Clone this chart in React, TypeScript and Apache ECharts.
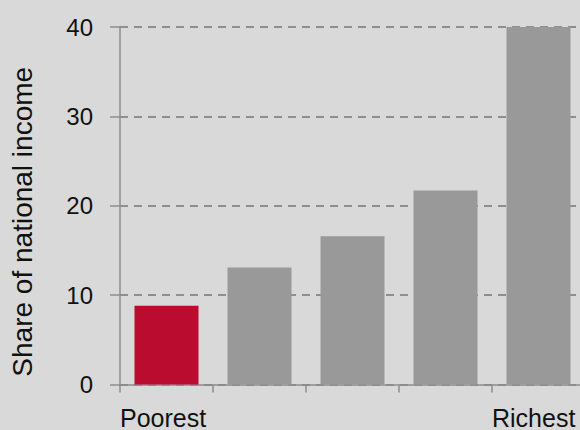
import React, { useEffect, useRef } from "react";
import * as echarts from "echarts";

const categories = ["Quintile 1", "Quintile 2", "Quintile 3", "Quintile 4", "Quintile 5"];
const shareValues = [8.8, 13.1, 16.6, 21.7, 40.0];
const barColors = ["#ba0c2f", "#999999", "#999999", "#999999", "#999999"];
const edgeLabels = ["Poorest", "", "", "", "Richest", ""];
const yTicks = { min: 0, max: 40, interval: 10 };
const yName = "Share of national income";

export default function App() {
  const ref = useRef<HTMLDivElement>(null);
  useEffect(() => {
    if (!ref.current) return;
    const chart = echarts.init(ref.current, undefined, { renderer: "svg" });
    const font = "Liberation Sans, Arial, sans-serif";
    chart.setOption({
      animation: false,
      backgroundColor: "#d9d9d9",
      grid: { left: 120, right: 15, top: 27, bottom: 45, containLabel: false },
      xAxis: [
        {
          type: "category",
          data: categories,
          axisLine: { show: true, lineStyle: { color: "#8c8c8c", width: 1.5 } },
          axisTick: { show: true, length: 8, lineStyle: { color: "#8c8c8c", width: 1.5 } },
          axisLabel: { show: false },
          splitLine: { show: false },
        },
        {
          type: "category",
          data: edgeLabels,
          position: "bottom",
          boundaryGap: false,
          axisLine: { show: false },
          axisTick: { show: false },
          axisLabel: {
            show: true,
            interval: 0,
            align: "left",
            margin: 21,
            fontSize: 25,
            lineHeight: 24,
            color: "#111",
            fontFamily: font,
          },
          splitLine: { show: false },
        },
      ],
      yAxis: {
        type: "value",
        min: yTicks.min,
        max: yTicks.max,
        interval: yTicks.interval,
        name: yName,
        nameLocation: "middle",
        nameGap: 84,
        nameTextStyle: { fontSize: 28, color: "#111", fontFamily: font, padding: [0, 32, 0, 0] },
        axisLine: { show: true, lineStyle: { color: "#8c8c8c", width: 1.5 } },
        axisTick: { show: true, length: 10, lineStyle: { color: "#8c8c8c", width: 1.5 } },
        axisLabel: { margin: 27, fontSize: 24, color: "#111", fontFamily: font },
        splitLine: {
          show: true,
          lineStyle: { color: "#8f8f8f", width: 2, type: [8, 6] },
        },
      },
      series: [
        {
          type: "bar",
          xAxisIndex: 0,
          barWidth: 64,
          data: shareValues.map((v, i) => ({ value: v, itemStyle: { color: barColors[i] } })),
        },
      ],
    });
    return () => chart.dispose();
  }, []);
  return (
    <div style={{ width: 580, height: 430, position: "absolute", left: 0, top: 0, overflow: "hidden" }}>
      <div ref={ref} style={{ width: 600, height: 430 }} />
    </div>
  );
}
